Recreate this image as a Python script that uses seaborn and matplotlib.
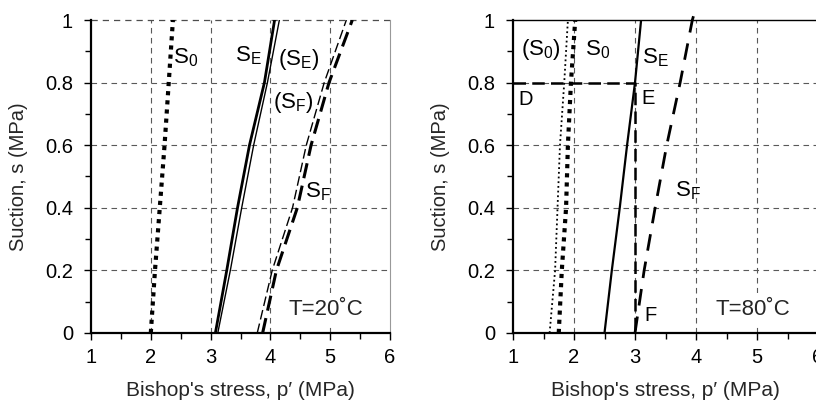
import matplotlib
matplotlib.use("Agg")
import matplotlib.pyplot as plt
from matplotlib.ticker import MultipleLocator
import seaborn as sns

sns.set_style("white")
plt.rcParams["font.family"] = ["Liberation Sans", "DejaVu Sans"]
plt.rcParams["mathtext.fontset"] = "custom"
plt.rcParams["mathtext.rm"] = "Liberation Sans"
plt.rcParams["mathtext.it"] = "Liberation Sans:italic"

# Suction levels (MPa) at which the yield curves are sampled
suction = [0.0, 0.2, 0.4, 0.6, 0.8, 1.0]

# T = 20 C : Bishop's stress (MPa) along each curve
p20_S0 = [2.00, 2.07, 2.15, 2.23, 2.30, 2.37]
p20_SE = [3.08, 3.27, 3.45, 3.65, 3.90, 4.07]
p20_SE_model = [3.12, 3.33, 3.52, 3.72, 3.95, 4.15]
p20_SF = [3.87, 4.10, 4.45, 4.68, 4.98, 5.37]
p20_SF_model = [3.78, 4.03, 4.37, 4.60, 4.90, 5.27]

# T = 80 C
p80_S0 = [1.75, 1.80, 1.87, 1.90, 1.95, 2.02]
p80_S0_model = [1.60, 1.69, 1.73, 1.77, 1.84, 1.90]
p80_SE = [2.50, 2.62, 2.75, 2.87, 3.00, 3.10]
suction_SF80 = [0.0, 0.2, 0.4, 0.6, 0.8, 1.0, 1.04]
p80_SF = [3.00, 3.15, 3.33, 3.52, 3.74, 3.94, 4.00]

# Stress path D -> E -> F
path_p = [1.0, 3.0, 3.0]
path_s = [0.8, 0.8, 0.0]

fig = plt.figure(figsize=(8.16, 4.04), dpi=100)
ax1 = fig.add_axes([91 / 816, 71 / 404, 299 / 816, 313 / 404])
ax2 = fig.add_axes([513 / 816, 71 / 404, 305 / 816, 313 / 404])

grid_kw = dict(color="0.35", lw=0.8, linestyle=(0, (5, 4)), zorder=0)
FS = 14.5


def style_axes(ax, top_solid):
    ax.set_xlim(1, 6)
    ax.set_ylim(0, 1)
    ax.xaxis.set_major_locator(MultipleLocator(1))
    ax.xaxis.set_minor_locator(MultipleLocator(0.5))
    ax.yaxis.set_minor_locator(MultipleLocator(0.1))
    ax.set_yticks([0, 0.2, 0.4, 0.6, 0.8, 1.0])
    ax.set_yticklabels(["0", "0.2", "0.4", "0.6", "0.8", "1"])
    ax.tick_params(axis="both", which="both", direction="out", colors="black",
                   labelsize=FS, bottom=True, left=True)
    ax.tick_params(which="major", length=5, width=1.0)
    ax.tick_params(axis="y", which="major", pad=8)
    ax.tick_params(axis="x", which="major", pad=6)
    ax.tick_params(which="minor", length=4, width=1.0)
    for xv in [2, 3, 4, 5]:
        ax.axvline(xv, **grid_kw)
    for yv in [0.2, 0.4, 0.6, 0.8]:
        ax.axhline(yv, **grid_kw)
    for side in ["left", "bottom"]:
        ax.spines[side].set_color("black")
        ax.spines[side].set_linewidth(1.6)
    if top_solid:
        ax.spines["top"].set_color("black")
        ax.spines["top"].set_linewidth(1.0)
    else:
        ax.spines["top"].set_visible(False)
        ax.axhline(1.0, color="0.3", lw=0.9, linestyle=(0, (5, 4)), zorder=0,
                   clip_on=False)
    ax.spines["right"].set_color("0.6")
    ax.spines["right"].set_linewidth(0.8)
    ax.set_xlabel("Bishop's stress, p\u2032 (MPa)", fontsize=15, labelpad=10)
    ax.set_ylabel("Suction, s (MPa)", fontsize=FS, labelpad=12)
    ax.patch.set_alpha(0)


def curve(ax, p, s, lw, ls, clip=True):
    sns.lineplot(x=p, y=s, ax=ax, sort=False, color="black", lw=lw,
                 linestyle=ls, estimator=None, zorder=3)
    ax.lines[-1].set_clip_on(clip)


style_axes(ax1, top_solid=False)
style_axes(ax2, top_solid=True)

lab = dict(fontsize=16, ha="center", va="center", color="black", zorder=5)
small = dict(fontsize=14.5, ha="center", va="center", color="black", zorder=5)
tbox = dict(fontsize=16, ha="center", va="center", zorder=6,
            bbox=dict(facecolor="white", edgecolor="none", pad=4))

# ---- T = 20 C ----
curve(ax1, p20_S0, suction, 3.0, (0, (1, 1.2)))
curve(ax1, p20_SE, suction, 2.0, "-")
curve(ax1, p20_SE_model, suction, 1.0, "-")
curve(ax1, p20_SF, suction, 2.2, (0, (5, 2.5)))
curve(ax1, p20_SF_model, suction, 1.0, (0, (7, 3)))

ax1.text(2.58, 0.88, r"$\mathrm{S_0}$", **lab)
ax1.text(3.63, 0.885, r"$\mathrm{S_E}$", **lab)
ax1.text(4.48, 0.875, r"$\mathrm{(S_E)}$", **lab)
ax1.text(4.38, 0.735, r"$\mathrm{(S_F)}$", **lab)
ax1.text(4.8, 0.45, r"$\mathrm{S_F}$", **lab)
ax1.text(4.93, 0.075, "T=20\u02daC", **tbox)

# ---- T = 80 C ----
curve(ax2, p80_S0_model, suction, 1.3, (0, (1, 1.6)))
curve(ax2, p80_S0, suction, 3.0, (0, (1, 1.2)))
curve(ax2, p80_SE, suction, 1.6, "-")
curve(ax2, p80_SF, suction_SF80, 2.0, (0, (6, 4)), clip=False)
curve(ax2, path_p, path_s, 1.8, (0, (5, 2.5)))

ax2.text(1.45, 0.905, r"$\mathrm{(S_0)}$", **lab)
ax2.text(2.38, 0.905, r"$\mathrm{S_0}$", **lab)
ax2.text(3.33, 0.88, r"$\mathrm{S_E}$", **lab)
ax2.text(3.87, 0.455, r"$\mathrm{S_F}$", **lab)
ax2.text(1.2, 0.745, "D", **small)
ax2.text(3.22, 0.75, "E", **small)
ax2.text(3.25, 0.055, "F", **small)
ax2.text(4.93, 0.075, "T=80\u02daC", **tbox)

fig.savefig("out.png", dpi=100, facecolor="white")
